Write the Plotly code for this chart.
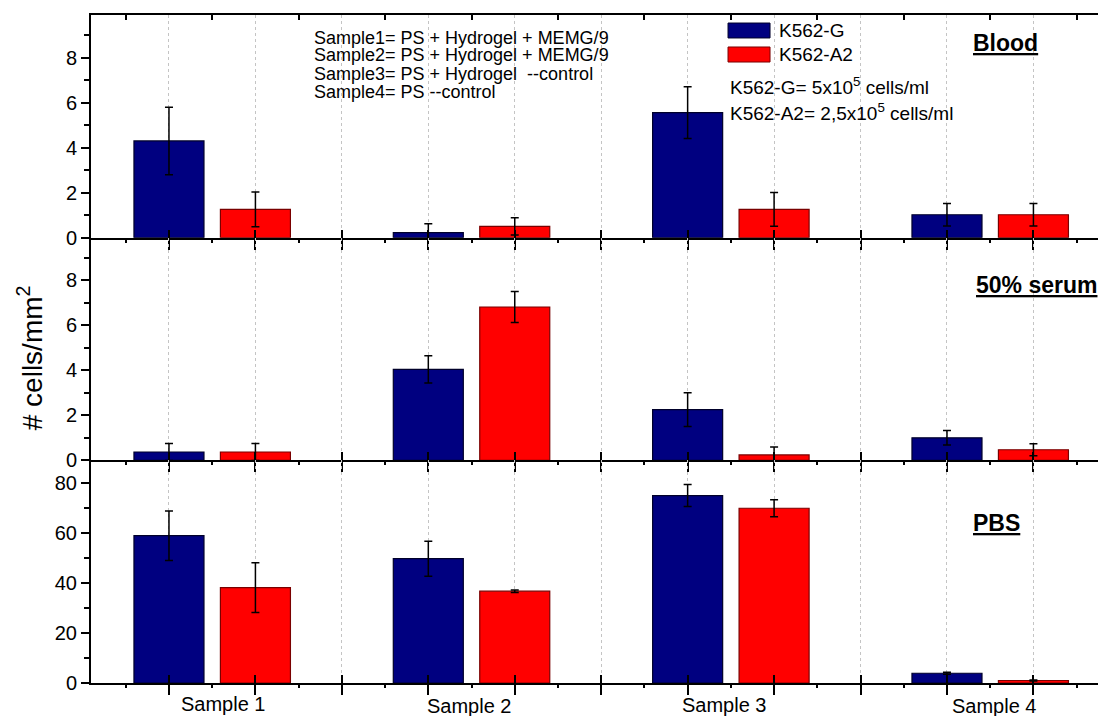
import plotly.graph_objects as go
from plotly.subplots import make_subplots

# ---------------- data ----------------
samples = ["Sample 1", "Sample 2", "Sample 3", "Sample 4"]
panels = ["Blood", "50% serum", "PBS"]
series_names = ["K562-G", "K562-A2"]

blood_g = [4.30, 0.22, 5.56, 1.02]
blood_g_err = [1.50, 0.40, 1.15, 0.50]
blood_a2 = [1.26, 0.50, 1.26, 1.02]
blood_a2_err = [0.77, 0.38, 0.75, 0.50]

serum_g = [0.37, 4.04, 2.25, 1.00]
serum_g_err = [0.38, 0.61, 0.75, 0.32]
serum_a2 = [0.37, 6.81, 0.24, 0.47]
serum_a2_err = [0.38, 0.69, 0.35, 0.27]

pbs_g = [59.0, 49.8, 75.1, 3.9]
pbs_g_err = [9.9, 7.0, 4.4, 0.4]
pbs_a2 = [38.2, 36.8, 70.0, 1.0]
pbs_a2_err = [10.0, 0.5, 3.4, 0.2]

note_lines = [
    "Sample1= PS + Hydrogel + MEMG/9",
    "Sample2= PS + Hydrogel + MEMG/9",
    "Sample3= PS + Hydrogel \u00a0--control",
    "Sample4= PS --control",
]
conc_lines = [
    "K562-G= 5x10<sup>5</sup> cells/ml",
    "K562-A2= 2,5x10<sup>5</sup> cells/ml",
]

# ---------------- styling / layout ----------------
FONT = "Liberation Sans, Arial, sans-serif"
BLUE = "#000080"
RED = "#ff0000"
BLUE_LINE = "#00002a"
RED_LINE = "#7a0000"
BAR_W = 0.81
X_RANGE = [0.098, 11.747]
Y_RANGES = [[0, 9.9], [0, 9.89], [0, 89.2]]
Y_DTICK = [2, 2, 20]
Y_MINOR = [1, 1, 10]

# positions of the grouped bars (group i -> blue at 3i+1, red at 3i+2)
blue_x = [3 * i + 1 for i in range(len(samples))]
red_x = [3 * i + 2 for i in range(len(samples))]
label_dx = [0.136, -0.018, -0.079, 0.044]
label_y = [-0.031, -0.034, -0.033, -0.034]

data_g = [(blood_g, blood_g_err), (serum_g, serum_g_err), (pbs_g, pbs_g_err)]
data_a2 = [(blood_a2, blood_a2_err), (serum_a2, serum_a2_err), (pbs_a2, pbs_a2_err)]

fig = make_subplots(rows=3, cols=1, shared_xaxes=True, vertical_spacing=0)

for r in range(3):
    for xs, (vals, errs), fill, line, name in [
        (blue_x, data_g[r], BLUE, BLUE_LINE, series_names[0]),
        (red_x, data_a2[r], RED, RED_LINE, series_names[1]),
    ]:
        fig.add_trace(
            go.Bar(
                x=xs, y=vals, width=BAR_W, name=name, showlegend=False,
                marker=dict(color=fill, line=dict(color=line, width=1.2)),
                error_y=dict(type="data", array=errs, visible=True,
                             color="black", thickness=1.5, width=4),
            ),
            row=r + 1, col=1,
        )

fig.update_layout(
    width=1098, height=716,
    margin=dict(l=91, r=0, t=15, b=33, autoexpand=False),
    paper_bgcolor="white", plot_bgcolor="white",
    barmode="overlay",
    font=dict(family=FONT, color="black", size=18),
    showlegend=False,
)

for r in range(3):
    xa = "xaxis" if r == 0 else f"xaxis{r + 1}"
    ya = "yaxis" if r == 0 else f"yaxis{r + 1}"
    fig.layout[xa].update(
        range=X_RANGE, tick0=0, dtick=1,
        showgrid=True, gridcolor="#c4c4c4", griddash="dot", gridwidth=1,
        ticks="outside", ticklen=10, tickwidth=2, tickcolor="black",
        showticklabels=False, showline=True, linecolor="black", linewidth=2,
        zeroline=False, automargin=False,
        minor=dict(dtick=0.5, tick0=0, ticks="outside", ticklen=3,
                   tickwidth=1.5, tickcolor="black", showgrid=False),
    )
    fig.layout[ya].update(
        range=Y_RANGES[r], dtick=Y_DTICK[r], tick0=0,
        ticks="outside", ticklen=8, tickwidth=2, tickcolor="black",
        showline=True, linecolor="black", linewidth=2,
        showgrid=False, zeroline=False, automargin=False,
        tickfont=dict(size=20, family=FONT, color="black"),
        minor=dict(dtick=Y_MINOR[r], ticks="outside", ticklen=5,
                   tickwidth=1.5, tickcolor="black", showgrid=False),
    )

# overlay axes giving crossing ticks on each zero line
over_ids = ["x", "x2", "x3"]
anchors = ["y", "y2", "y3"]
for k in range(3):
    name = f"xaxis{4 + k}"
    fig.layout[name] = dict(
        overlaying=over_ids[k], anchor=anchors[k], side="bottom",
        range=X_RANGE, tick0=0, dtick=1,
        ticks="inside", ticklen=8, tickwidth=2, tickcolor="black",
        showticklabels=False, showgrid=False, showline=False, zeroline=False,
    )
    fig.add_trace(go.Scatter(x=[], y=[], xaxis=f"x{4 + k}", yaxis=anchors[k],
                             showlegend=False, hoverinfo="skip"))

# top border of the upper panel
fig.layout["xaxis7"] = dict(
    overlaying="x", anchor="y", side="top",
    range=X_RANGE, tick0=0.5, dtick=1,
    ticks="inside", ticklen=5, tickwidth=1.5, tickcolor="black",
    showticklabels=False, showgrid=False, showline=True,
    linecolor="black", linewidth=2, zeroline=False,
)
fig.add_trace(go.Scatter(x=[], y=[], xaxis="x7", yaxis="y",
                         showlegend=False, hoverinfo="skip"))

annotations = []

# sample labels under the bottom panel
for i, s in enumerate(samples):
    annotations.append(dict(
        x=blue_x[i] + 0.5 + label_dx[i], xref="x3",
        y=label_y[i], yref="paper", text=s, showarrow=False,
        xanchor="center", yanchor="middle",
        font=dict(size=20, family=FONT, color="black"),
    ))

# y-axis title
annotations.append(dict(
    x=-0.061, xref="paper", y=0.487, yref="paper",
    text="# cells/mm<sup>2</sup>", textangle=-90, showarrow=False,
    xanchor="center", yanchor="middle",
    font=dict(size=28, family=FONT, color="black"),
))

# sample descriptions
note_y = [0.9662, 0.9394, 0.9122, 0.8847]
for t, yy in zip(note_lines, note_y):
    annotations.append(dict(
        x=0.2195, xref="paper", y=yy, yref="paper", text=t,
        showarrow=False, xanchor="left", yanchor="middle",
        font=dict(size=18, family=FONT, color="black"),
    ))

# legend (manual)
swatch_y = [(0.9656, 0.988), (0.9296, 0.9521)]
sw_fill = [BLUE, RED]
sw_line = [BLUE_LINE, RED_LINE]
shapes = []
for k in range(2):
    shapes.append(dict(
        type="rect", xref="paper", yref="paper",
        x0=0.6326, x1=0.6743, y0=swatch_y[k][0], y1=swatch_y[k][1],
        fillcolor=sw_fill[k], line=dict(color=sw_line[k], width=1),
    ))
    annotations.append(dict(
        x=0.6812, xref="paper", y=(swatch_y[k][0] + swatch_y[k][1]) / 2,
        yref="paper", text=series_names[k], showarrow=False,
        xanchor="left", yanchor="middle",
        font=dict(size=19, family=FONT, color="black"),
    ))

conc_y = [0.8937, 0.8548]
for t, yy in zip(conc_lines, conc_y):
    annotations.append(dict(
        x=0.6326, xref="paper", y=yy, yref="paper", text=t,
        showarrow=False, xanchor="left", yanchor="middle",
        font=dict(size=19, family=FONT, color="black"),
    ))

# panel titles
panel_pos = [(0.8739, 0.958), (0.8769, 0.5958), (0.8739, 0.2395)]
for p, (px, py) in zip(panels, panel_pos):
    annotations.append(dict(
        x=px, xref="paper", y=py, yref="paper",
        text=f"<b><u>{p}</u></b>", showarrow=False,
        xanchor="left", yanchor="middle",
        font=dict(size=23, family=FONT, color="black"),
    ))

fig.update_layout(annotations=annotations, shapes=shapes)

fig.write_html(
    "out.html",
    config={"displayModeBar": False},
    post_script="document.body.style.margin='0';"
                "document.body.style.overflow='hidden';",
)
